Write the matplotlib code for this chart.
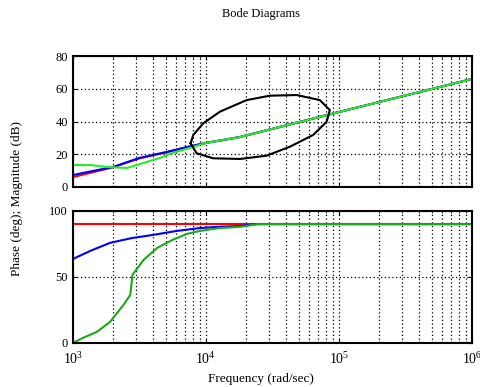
import matplotlib
matplotlib.use('agg')
import matplotlib.pyplot as plt

plt.rcParams['font.family'] = ['Liberation Serif', 'DejaVu Serif']
plt.rcParams['mathtext.fontset'] = 'stix'

# magnitude curves (rad/sec, dB)
w_mag = [1e3, 2e3, 3.16e3, 5.1e3, 7.2e3, 1e4, 1.8e4, 1e5, 1e6]
mag_red = [6.0, 12.0, 17.5, 21.3, 24.3, 26.9, 30.5, 45.8, 66.0]
mag_blue = [7.3, 12.2, 17.7, 21.4, 24.4, 26.9, 30.5, 45.8, 66.0]

w_mag_g = [1e3, 1.35e3, 1.8e3, 2.55e3, 3.4e3, 4.5e3, 5.6e3, 7.6e3, 1e4, 1.8e4, 1e5, 1e6]
mag_green = [13.4, 13.4, 12.2, 11.6, 14.7, 17.7, 20.8, 23.9, 26.9, 30.5, 45.8, 66.0]

# phase curves (deg)
w_ph = [1e3, 1.35e3, 1.9e3, 2.8e3, 4e3, 6e3, 9e3, 1.26e4, 1.8e4, 2.45e4, 1e6]
ph_blue = [63.6, 69.7, 75.8, 79.5, 81.8, 84.8, 87.0, 88.0, 88.6, 90.0, 90.0]

w_ph_g = [1e3, 1.19e3, 1.51e3, 1.9e3, 2.4e3, 2.7e3, 2.8e3, 3.4e3, 4.3e3, 5.6e3,
          7.2e3, 9e3, 1.26e4, 1.8e4, 2.45e4, 1e6]
ph_green = [0.0, 3.8, 8.3, 15.9, 28.8, 36.4, 51.5, 62.9, 72.0, 78.0,
            82.6, 84.8, 87.0, 87.9, 90.0, 90.0]

w_ph_r = [1e3, 1e6]
ph_red = [90.0, 90.0]

# ellipse drawn on magnitude plot (rad/sec, dB)
ell_w = [7674, 8035, 9550, 12735, 20230, 30270, 48080, 71940, 85500,
         80910, 64120, 42850, 28580, 18030, 11350, 8511, 7674]
ell_db = [26.7, 31.8, 38.9, 46.0, 53.1, 55.8, 56.2, 53.1, 47.0,
          39.9, 31.8, 24.6, 19.1, 17.1, 17.5, 20.6, 26.7]

fig = plt.figure(figsize=(4.8, 3.87), dpi=100)
ax1 = fig.add_axes([0.152, 0.517, 0.831, 0.338])
ax2 = fig.add_axes([0.152, 0.114, 0.831, 0.341])

grid_style = dict(color='black', linestyle=(0, (1, 2)), linewidth=0.9)

for ax in (ax1, ax2):
    ax.set_xscale('log')
    ax.set_xlim(1e3, 1e6)
    ax.grid(True, which='both', **grid_style)
    ax.tick_params(which='both', direction='in', top=True, right=True,
                   labelsize=9, length=3)
    ax.tick_params(axis='x', labelsize=10, pad=6)
    ax.tick_params(which='minor', length=1.5)
    for s in ax.spines.values():
        s.set_linewidth(1.5)

ax1.plot(w_mag, mag_red, color='red', lw=1.5)
ax1.plot(w_mag, mag_blue, color='blue', lw=1.5)
ax1.plot(w_mag_g, mag_green, color='#22ee22', lw=1.5)
ax1.plot(ell_w, ell_db, color='black', lw=1.5)
ax1.set_ylim(0, 80)
ax1.set_yticks([0, 20, 40, 60, 80])
ax1.tick_params(labelbottom=False)

ax2.plot(w_ph_r, ph_red, color='red', lw=1.5)
ax2.plot(w_ph, ph_blue, color='blue', lw=1.5)
ax2.plot(w_ph_g, ph_green, color='#1aaa1a', lw=1.5)
ax2.set_ylim(0, 100)
ax2.set_yticks([0, 50, 100])

fig.text(0.544, 0.964, 'Bode Diagrams', ha='center', va='center', fontsize=9)
fig.text(0.544, 0.02, 'Frequency (rad/sec)', ha='center', va='center', fontsize=9.5)
fig.text(0.036, 0.488, 'Phase (deg); Magnitude (dB)', ha='center', va='center',
         rotation=90, fontsize=9.5)

fig.savefig('out.png', dpi=100)
